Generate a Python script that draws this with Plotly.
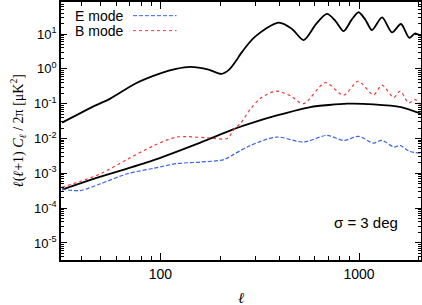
import plotly.graph_objects as go

# ---- data ----
ee_l = [32, 44.5, 56, 75, 100, 120, 142, 175, 203, 222, 243, 253, 300, 394, 460, 526, 610, 690, 760, 837, 915, 995, 1080, 1162, 1306, 1466, 1626, 1790, 1918, 2048]
ee_v = [0.0285, 0.076, 0.14, 0.38, 0.74, 1.0, 1.14, 0.95, 0.72, 0.95, 1.85, 2.65, 8.4, 21.2, 14.0, 6.7, 20.0, 37.7, 24.0, 12.2, 25.0, 42.2, 25.0, 13.0, 30.2, 11.2, 19.4, 7.8, 10.5, 8.8]

bb_l = [32, 50, 89, 159, 234, 300, 386, 569, 871, 1183, 1625, 2048]
bb_v = [3.4e-4, 8.0e-4, 2.2e-3, 7.6e-3, 0.0185, 0.030, 0.046, 0.080, 0.100, 0.096, 0.080, 0.052]

bmode_l = [32, 40, 50, 68, 93, 121, 172, 217, 234, 253, 284, 318, 380, 450, 526, 676, 837, 990, 1183, 1306, 1495, 1612, 1778, 1918, 2048]
bmode_v = [4.0e-4, 6.0e-4, 9.7e-4, 2.5e-3, 6.3e-3, 0.011, 0.0105, 0.010, 0.018, 0.027, 0.07, 0.14, 0.23, 0.17, 0.10, 0.40, 0.175, 0.44, 0.18, 0.34, 0.15, 0.23, 0.105, 0.13, 0.09]

emode_l = [32, 39.5, 50, 68, 93, 121, 159, 210, 234, 284, 386, 526, 690, 837, 995, 1183, 1306, 1495, 1612, 1790, 2048]
emode_v = [3.5e-4, 3.2e-4, 5.0e-4, 9.7e-4, 1.4e-3, 1.9e-3, 2.1e-3, 2.5e-3, 3.5e-3, 6.3e-3, 0.011, 7.9e-3, 0.0123, 8.8e-3, 0.0115, 7.4e-3, 8.8e-3, 5.7e-3, 6.3e-3, 4.3e-3, 3.8e-3]

x_tickvals = [100, 1000]
x_ticktext = ["100", "1000"]
y_tickvals = [1e-5, 1e-4, 1e-3, 1e-2, 1e-1, 1, 10]
y_ticktext = ["10<sup>-5</sup>", "10<sup>-4</sup>", "10<sup>-3</sup>", "10<sup>-2</sup>",
              "10<sup>-1</sup>", "10<sup>0</sup>", "10<sup>1</sup>"]

BLUE = "#3b63e3"
RED = "#ef3a3a"

x_minor = [m * 10 ** d for d in (1, 2, 3) for m in range(2, 10)]
y_minor = [m * 10.0 ** d for d in range(-6, 2) for m in range(2, 10)]

fig = go.Figure()
fig.add_trace(go.Scatter(x=ee_l, y=ee_v, mode="lines", line=dict(color="black", width=1.8, shape="spline", smoothing=0.8), showlegend=False))
fig.add_trace(go.Scatter(x=bb_l, y=bb_v, mode="lines", line=dict(color="black", width=1.8, shape="spline", smoothing=0.6), showlegend=False))
fig.add_trace(go.Scatter(x=bmode_l, y=bmode_v, mode="lines", line=dict(color=RED, width=1.2, dash="dot", shape="spline", smoothing=0.8), showlegend=False))
fig.add_trace(go.Scatter(x=emode_l, y=emode_v, mode="lines", line=dict(color=BLUE, width=1.2, dash="4px,2px", shape="spline", smoothing=0.8), showlegend=False))

axis_common = dict(showline=True, linecolor="black", linewidth=1.5, mirror="allticks",
                   ticks="inside", tickcolor="black", showgrid=False, zeroline=False, automargin=False)

fig.update_xaxes(type="log", range=[1.5, 3.312], tickvals=x_tickvals, ticktext=x_ticktext,
                 ticklen=7, tickwidth=1.2,
                 tickfont=dict(family="Liberation Sans, Arial", size=14, color="black"),
                 minor=dict(tickmode="array", tickvals=x_minor, ticks="inside", ticklen=4, tickcolor="black", tickwidth=1.2),
                 **axis_common)
fig.update_yaxes(type="log", range=[-5.49, 1.92], tickvals=y_tickvals, ticktext=y_ticktext,
                 ticklen=6, tickwidth=1.2,
                 tickfont=dict(family="Liberation Sans, Arial", size=13, color="black"),
                 minor=dict(tickmode="array", tickvals=y_minor, ticks="inside", ticklen=3, tickcolor="black", tickwidth=1),
                 **axis_common)

# axis titles
fig.add_annotation(xref="paper", yref="paper", x=-0.119, y=0.5, textangle=-90,
                   text="<i>ℓ</i>(<i>ℓ</i>+1) <i>C<sub>ℓ</sub></i> / 2π [μK<sup>2</sup>]", showarrow=False,
                   xanchor="center", yanchor="middle", font=dict(family="Liberation Serif, serif", size=14, color="black"))
fig.add_annotation(xref="paper", yref="paper", x=0.5, y=-0.147, text="<i>ℓ</i>", showarrow=False,
                   xanchor="center", yanchor="middle", font=dict(family="Liberation Serif, serif", size=15, color="black"))

# legend (text left, sample right)
fig.add_annotation(xref="paper", yref="paper", x=0.033, y=0.947, text="E mode", showarrow=False,
                   xanchor="left", yanchor="middle", font=dict(family="Liberation Sans, Arial", size=14, color="black"))
fig.add_annotation(xref="paper", yref="paper", x=0.033, y=0.889, text="B mode", showarrow=False,
                   xanchor="left", yanchor="middle", font=dict(family="Liberation Sans, Arial", size=14, color="black"))
fig.add_shape(type="line", xref="paper", yref="paper", x0=0.2, x1=0.321, y0=0.947, y1=0.947,
              line=dict(color=BLUE, width=1, dash="4px,2px"))
fig.add_shape(type="line", xref="paper", yref="paper", x0=0.2, x1=0.321, y0=0.889, y1=0.889,
              line=dict(color=RED, width=1, dash="dot"))

fig.add_annotation(xref="paper", yref="paper", x=0.847, y=0.145, text="σ = 3 deg", showarrow=False,
                   xanchor="center", yanchor="middle", font=dict(family="Liberation Sans, Arial", size=15, color="black"))

fig.update_layout(width=422, height=305, margin=dict(l=61, r=1, t=2, b=45),
                  plot_bgcolor="white", paper_bgcolor="white", showlegend=False)

fig.write_html("out.html", config={"displayModeBar": False},
               post_script="document.body.style.margin='0';")
